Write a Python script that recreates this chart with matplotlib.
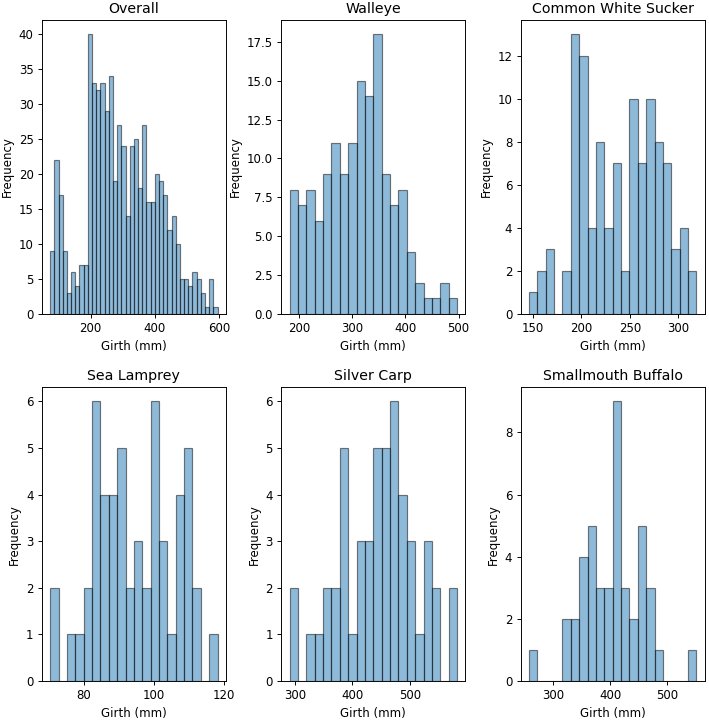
import numpy as np
import matplotlib
matplotlib.use("Agg")
import matplotlib.pyplot as plt

# titles of the six panels
titles = ["Overall", "Walleye", "Common White Sucker",
          "Sea Lamprey", "Silver Carp", "Smallmouth Buffalo"]

# bin counts
overall = [9, 22, 17, 9, 3, 6, 4, 7, 7, 40, 33, 32, 33, 29, 34, 19, 27, 24, 14, 24,
           25, 18, 27, 16, 16, 20, 19, 17, 12, 14, 10, 5, 5, 4, 6, 5, 3, 1, 5, 1]
walleye = [8, 7, 8, 6, 9, 11, 9, 11, 15, 14, 18, 9, 7, 8, 4, 2, 1, 1, 2, 1]
white_sucker = [1, 2, 3, 0, 2, 13, 12, 4, 8, 4, 7, 2, 10, 7, 10, 8, 7, 3, 4, 2]
sea_lamprey = [2, 0, 1, 1, 2, 6, 4, 4, 5, 2, 3, 2, 6, 3, 1, 4, 5, 2, 0, 1]
silver_carp = [2, 0, 1, 1, 2, 2, 5, 1, 3, 3, 5, 5, 6, 4, 3, 1, 3, 2, 0, 2]
buffalo = [1, 0, 0, 0, 2, 2, 4, 5, 3, 3, 9, 3, 2, 5, 3, 1, 0, 0, 0, 1]

# girth range (min, max) of each panel, mm
ranges = [(74, 595), (182, 497), (146, 318.6), (70.4, 118.1), (290.8, 581.8), (257.7, 551)]

counts = [overall, walleye, white_sucker, sea_lamprey, silver_carp, buffalo]

dpi = 85
fig, axes = plt.subplots(2, 3, figsize=(709 / dpi, 720 / dpi), dpi=dpi)
fig.subplots_adjust(left=0.059, right=0.994, top=0.972, bottom=0.054,
                    wspace=0.30, hspace=0.25)

for ax, title, c, (lo, hi) in zip(axes.flat, titles, counts, ranges):
    edges = np.linspace(lo, hi, len(c) + 1)
    ax.hist(edges[:-1], bins=edges, weights=c, alpha=0.5, edgecolor="black")
    ax.set_title(title)
    ax.set_xlabel("Girth (mm)")
    ax.set_ylabel("Frequency")

fig.savefig("out.png", dpi=dpi)
